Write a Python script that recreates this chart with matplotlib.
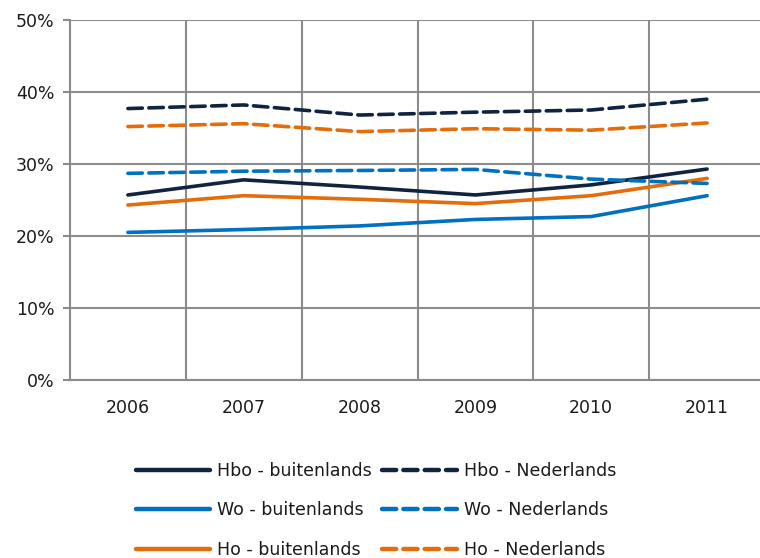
import matplotlib.pyplot as plt
from matplotlib.lines import Line2D

jaren = ["2006", "2007", "2008", "2009", "2010", "2011"]

hbo_buitenlands = [25.7, 27.8, 26.8, 25.7, 27.1, 29.3]
hbo_nederlands = [37.7, 38.2, 36.8, 37.2, 37.5, 39.0]
wo_buitenlands = [20.5, 20.9, 21.4, 22.3, 22.7, 25.6]
wo_nederlands = [28.7, 29.0, 29.1, 29.25, 27.9, 27.3]
ho_buitenlands = [24.3, 25.6, 25.1, 24.5, 25.6, 28.0]
ho_nederlands = [35.2, 35.6, 34.5, 34.9, 34.7, 35.7]

y_ticks = [0, 10, 20, 30, 40, 50]

donkerblauw = "#10243F"
blauw = "#0070C0"
oranje = "#E46C0A"
grijs = "#8C8C8C"

plt.rcParams["font.family"] = ["DejaVu Sans"]

fig = plt.figure(figsize=(7.6, 5.58), dpi=100)
ax = fig.add_axes([70 / 760, 1 - 380 / 558, 695 / 760, 360 / 558])

x = list(range(len(jaren)))
lw = 2.6
dash = (4, 1.8)

series = [
    (hbo_buitenlands, donkerblauw, "-", "Hbo - buitenlands"),
    (wo_buitenlands, blauw, "-", "Wo - buitenlands"),
    (ho_buitenlands, oranje, "-", "Ho - buitenlands"),
    (hbo_nederlands, donkerblauw, "--", "Hbo - Nederlands"),
    (wo_nederlands, blauw, "--", "Wo - Nederlands"),
    (ho_nederlands, oranje, "--", "Ho - Nederlands"),
]

for waarden, kleur, stijl, label in series:
    if stijl == "--":
        ax.plot(x, waarden, color=kleur, lw=lw, linestyle=(0, dash),
                dash_capstyle="round", solid_capstyle="round", zorder=3)
    else:
        ax.plot(x, waarden, color=kleur, lw=lw, solid_capstyle="round", zorder=3)

ax.set_xlim(-0.5, 5.5)
ax.set_ylim(0, 50)
ax.set_yticks(y_ticks)
ax.set_yticklabels([f"{v}%" for v in y_ticks])
ax.set_xticks(x)
ax.set_xticklabels(jaren)
ax.set_xticks([i + 0.5 for i in range(len(jaren) - 1)], minor=True)

ax.grid(axis="y", which="major", color=grijs, lw=1.5)
ax.grid(axis="x", which="minor", color=grijs, lw=1.5)
ax.set_axisbelow(True)

for kant in ["top", "right"]:
    ax.spines[kant].set_visible(False)
for kant in ["left", "bottom"]:
    ax.spines[kant].set_color(grijs)
    ax.spines[kant].set_linewidth(1.5)

ax.tick_params(axis="y", which="major", length=5, width=1.5, color=grijs,
               labelsize=12.5, pad=6, labelcolor="#1A1A1A")
ax.tick_params(axis="x", which="both", length=0, labelsize=12.5, pad=14,
               labelcolor="#1A1A1A")

handles = []
labels = []
for waarden, kleur, stijl, label in series:
    if stijl == "--":
        h = Line2D([], [], color=kleur, lw=lw + 0.6, linestyle=(0, (3.2, 1.6)),
                   dash_capstyle="round")
    else:
        h = Line2D([], [], color=kleur, lw=lw + 0.6, solid_capstyle="round")
    handles.append(h)
    labels.append(label)

fig.legend(handles, labels, ncol=2, loc="upper left",
           bbox_to_anchor=(120 / 760, 1 - 446 / 558), frameon=False,
           fontsize=12.5, handlelength=4.3, handletextpad=0.4,
           columnspacing=0.6, labelspacing=1.25, labelcolor="#1A1A1A")

fig.savefig("out.png", dpi=100)
